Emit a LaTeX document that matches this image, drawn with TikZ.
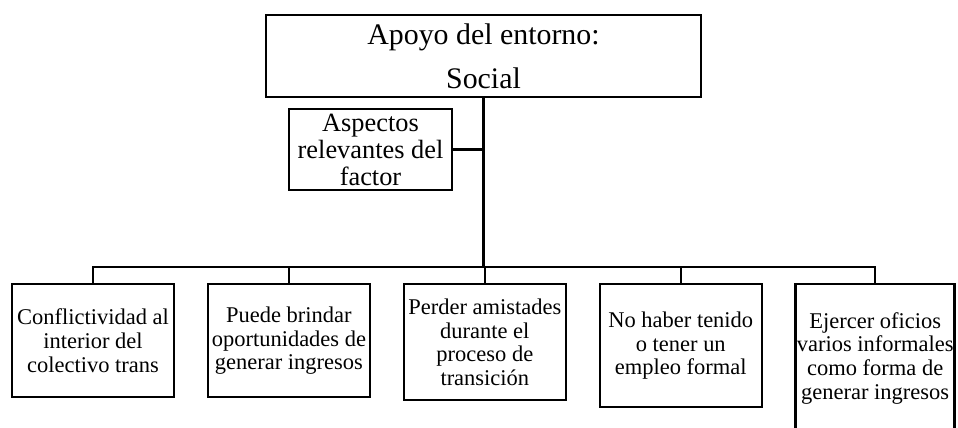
\documentclass[tikz,border=0pt]{standalone}
\usepackage{fontspec}
\setmainfont{Liberation Serif}
\usetikzlibrary{positioning}
\begin{document}
\begin{tikzpicture}[x=0.02cm, y=-0.02cm, node distance=0.63cm,
		caja/.style={rectangle, draw, line width=1.4pt, inner sep=0pt, align=center},
		hoja/.style={caja, minimum width=3.24cm, font=\fontsize{12.8}{13.4}\selectfont},
		enlace/.style={line width=1.4pt}]
		\clip (0,0) rectangle (958,428);
		% Place nodes
		\node [caja, minimum width=8.7cm, minimum height=1.64cm, font=\fontsize{17}{25}\selectfont] (entorno) at (483.5,56) {Apoyo del entorno:\\Social};
		\node [caja, minimum width=3.26cm, minimum height=1.62cm, font=\fontsize{15}{15.4}\selectfont] (aspectos) at (370.5,149.5) {Aspectos\\relevantes del\\factor};
		
		\node [hoja, anchor=north, minimum height=2.26cm] (item1) at (93,283) {Conflictividad al\\interior del\\colectivo trans};
		\node [hoja, right=of item1.north east, anchor=north west, minimum height=2.26cm] (item2) {Puede brindar\\oportunidades de\\generar ingresos};
		\node [hoja, right=of item2.north east, anchor=north west, minimum height=2.32cm] (item3) {Perder amistades\\durante el\\proceso de\\transición};
		\node [hoja, right=of item3.north east, anchor=north west, minimum height=2.46cm] (item4) {No haber tenido\\o tener un\\empleo formal};
		\node [hoja, right=of item4.north east, anchor=north west, minimum width=3.18cm, minimum height=2.96cm] (item5) {Ejercer oficios\\varios informales\\como forma de\\generar ingresos};
		
		% Connectors
		\coordinate (hub) at (483,267);
		\draw [enlace] (entorno.south) -- (entorno.south |- hub);
		\draw [enlace] (aspectos.east) -- (aspectos.east -| entorno.south);
		\draw [enlace] (item1.north) -- (item1.north |- hub) -| (item5.north);
		\draw [enlace] (item2.north) -- (item2.north |- hub);
		\draw [enlace] (item3.north) -- (item3.north |- hub);
		\draw [enlace] (item4.north) -- (item4.north |- hub);
	\end{tikzpicture}
\end{document}
